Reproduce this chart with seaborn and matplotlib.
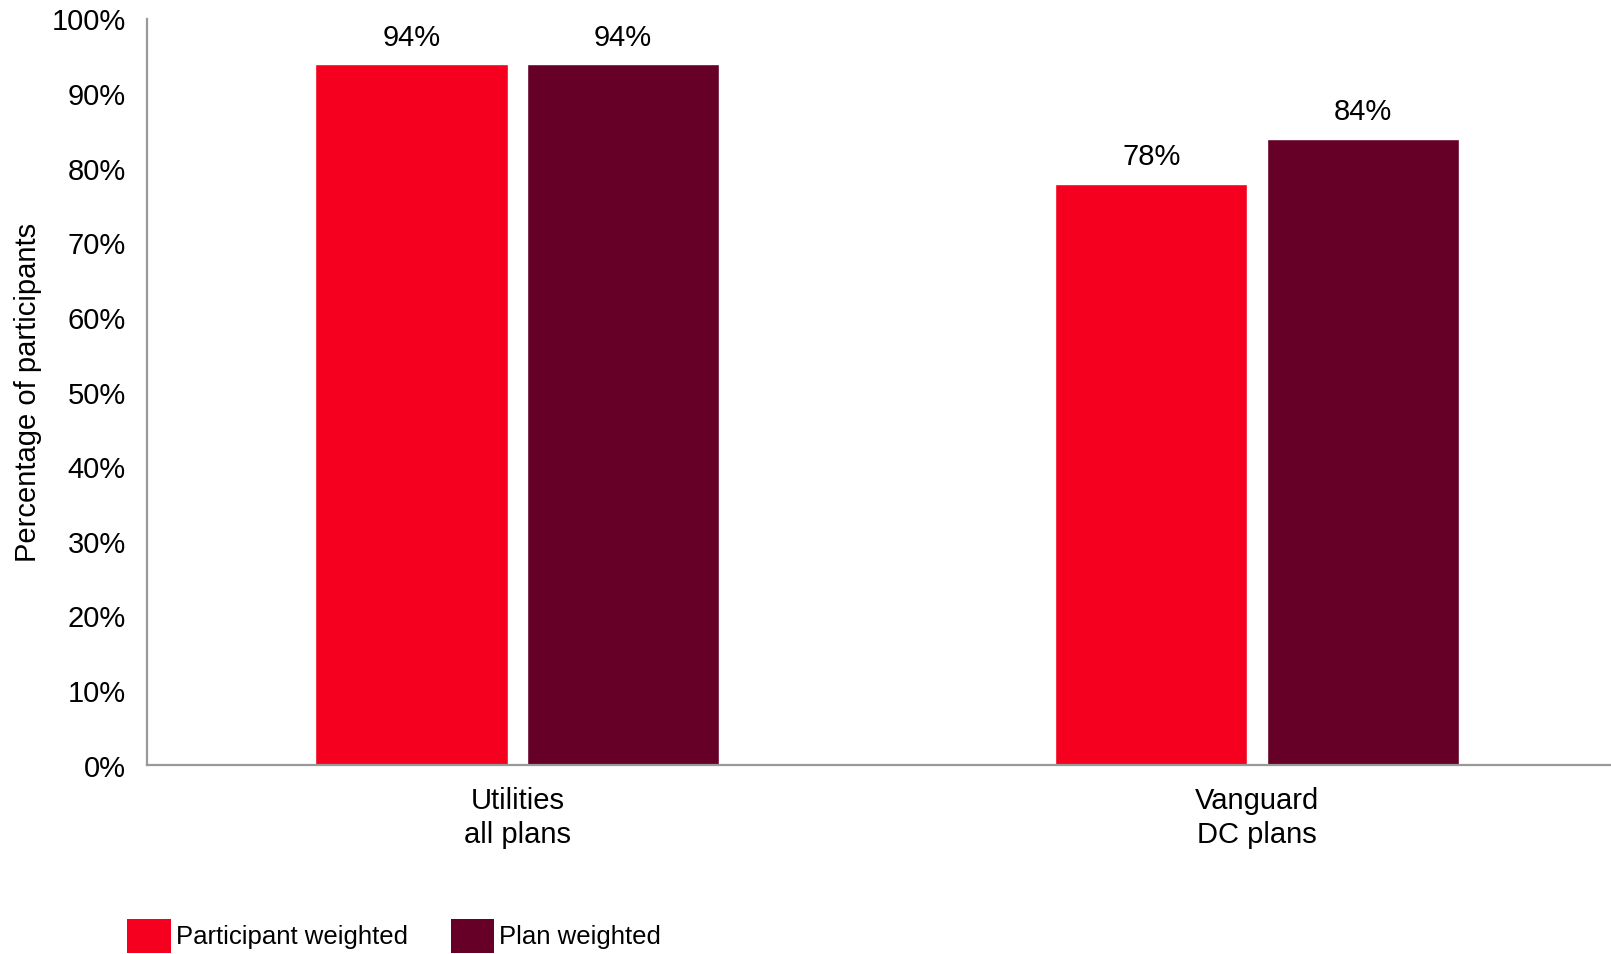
import matplotlib
matplotlib.use("Agg")
import matplotlib.pyplot as plt
from matplotlib.patches import Patch
from matplotlib.ticker import FuncFormatter
import seaborn as sns
import pandas as pd

# Plan-group categories and the two weighting series (percent)
categories = ["Utilities\nall plans", "Vanguard\nDC plans"]
series_names = ["Participant weighted", "Plan weighted"]
participant_weighted = [94, 78]
plan_weighted = [94, 84]
y_ticks = list(range(0, 101, 10))

colors = ["#F5001E", "#660026"]

df = pd.DataFrame({
    "group": categories * 2,
    "series": [series_names[0]] * 2 + [series_names[1]] * 2,
    "value": participant_weighted + plan_weighted,
})

sns.set_theme(style="white")
plt.rcParams["font.family"] = ["Liberation Sans", "DejaVu Sans"]

fig = plt.figure(figsize=(16.11, 9.541), dpi=100)
ax = fig.add_axes([0.0915, 0.1976, 0.9184, 0.782])

sns.barplot(
    data=df, x="group", y="value", hue="series",
    hue_order=series_names, order=categories,
    palette=colors, width=0.572, gap=0.091,
    saturation=1, legend=False, ax=ax, errorbar=None,
)

for container in ax.containers:
    for bar in container:
        h = bar.get_height()
        ax.annotate(f"{h:.0f}%", (bar.get_x() + bar.get_width() / 2, h),
                    xytext=(0, 19), textcoords="offset points",
                    ha="center", va="center", fontsize=21, color="black")

ax.set_xlim(-0.5, 1.5)
ax.set_ylim(0, 100)
ax.set_yticks(y_ticks)
ax.yaxis.set_major_formatter(FuncFormatter(lambda v, _: f"{v:.0f}%"))
ax.tick_params(axis="y", length=0, pad=15.5, labelsize=21, labelcolor="black")
ax.tick_params(axis="x", length=0, pad=15.5, labelsize=21, labelcolor="black")
for lbl in ax.get_xticklabels():
    lbl.set_linespacing(1.27)

ax.set_xlabel("")
ax.set_ylabel("Percentage of participants", fontsize=21, color="black")
ax.yaxis.set_label_coords(-0.0712, 0.5)

for side in ["top", "right"]:
    ax.spines[side].set_visible(False)
for side in ["left", "bottom"]:
    ax.spines[side].set_color("#999999")
    ax.spines[side].set_linewidth(1.6)

handles = [Patch(facecolor=c, edgecolor="none") for c in colors]
fig.legend(handles, series_names, loc="lower left",
           bbox_to_anchor=(0.0791, 0.001), ncol=2, frameon=False,
           fontsize=18.5, labelcolor="black",
           handlelength=1.7, handleheight=1.68,
           handletextpad=0.2, columnspacing=1.65, borderaxespad=0,
           borderpad=0)

fig.savefig("out.png", dpi=100)
